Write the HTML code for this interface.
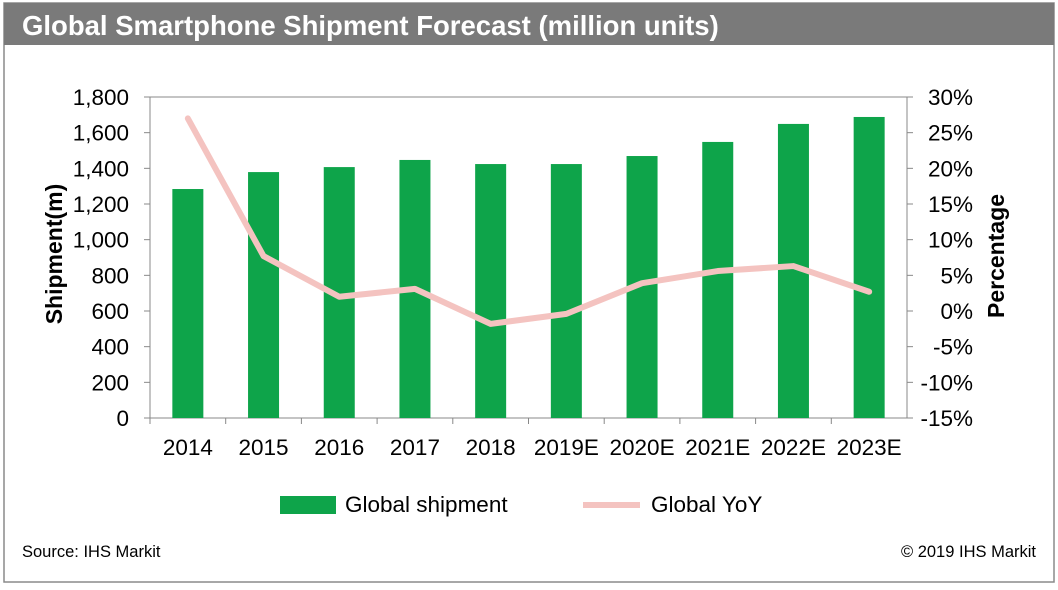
<!DOCTYPE html>
<html><head><meta charset="utf-8"><style>
body{margin:0;background:#fff;width:1058px;height:585px;overflow:hidden;font-family:"Liberation Sans",Arial,sans-serif}
</style></head><body>
<svg width="1058" height="585" xmlns="http://www.w3.org/2000/svg" font-family="Liberation Sans, Arial, sans-serif">
<rect x="4" y="3" width="1050" height="579" fill="#fff" stroke="#8a8a8a" stroke-width="1.5"/>
<rect x="4" y="3" width="1050" height="42" fill="#7a7a7a"/>
<text x="22" y="35" font-size="27.5" font-weight="bold" fill="#fff">Global Smartphone Shipment Forecast (million units)</text>
<g id="plot"></g>
<text x="22" y="557" font-size="16.5" fill="#000">Source: IHS Markit</text>
<text x="1036" y="557" font-size="16.5" fill="#000" text-anchor="end">© 2019 IHS Markit</text>
</svg>
<script>
const categories=["2014","2015","2016","2017","2018","2019E","2020E","2021E","2022E","2023E"];
const shipments=[1284,1379,1407,1447,1424,1424,1469,1548,1649,1688];
const yoy=[27,7.7,2,3.1,-1.8,-0.4,3.9,5.6,6.3,2.7];
const leftTicks=[0,200,400,600,800,1000,1200,1400,1600,1800];
const rightTicks=[-15,-10,-5,0,5,10,15,20,25,30];
const NS="http://www.w3.org/2000/svg";
const g=document.getElementById('plot');
const X0=150,X1=907,Y0=418,Y1=97;
const band=(X1-X0)/categories.length;
const xc=i=>X0+band*(i+0.5);
const yL=v=>Y0-(v/1800)*(Y0-Y1);
const yR=v=>Y0-((v+15)/45)*(Y0-Y1);
function mk(t,a){const e=document.createElementNS(NS,t);for(const k in a)e.setAttribute(k,a[k]);g.appendChild(e);return e;}
let e=mk('rect',{x:X0,y:Y1,width:X1-X0,height:Y0-Y1,fill:'none',stroke:'#888','stroke-width':1});


leftTicks.forEach(v=>{
 mk('line',{x1:X0-6,x2:X0,y1:yL(v),y2:yL(v),stroke:'#888'});
 e=mk('text',{x:129,y:yL(v)+8,'font-size':22.5,'text-anchor':'end'});e.textContent=v.toLocaleString('en-US');
 
 
});
rightTicks.forEach(v=>{
 mk('line',{x1:X1,x2:X1+6,y1:yR(v),y2:yR(v),stroke:'#888'});
 e=mk('text',{x:973,y:yR(v)+8,'font-size':22.5,'text-anchor':'end'});e.textContent=v+'%';
 
 
});
categories.forEach((c,i)=>{
 mk('line',{x1:X0+band*i,x2:X0+band*i,y1:Y0,y2:Y0+6,stroke:'#888'});
 e=mk('rect',{x:xc(i)-15.5,y:yL(shipments[i]),width:31,height:Y0-yL(shipments[i]),fill:'#0ea44a'});
 
 
 e=mk('text',{x:xc(i),y:455,'font-size':22.5,'text-anchor':'middle'});e.textContent=c;
 
 
});
e=mk('polyline',{points:yoy.map((v,i)=>xc(i)+','+yR(v)).join(' '),fill:'none',stroke:'#f4c3c0','stroke-width':6,'stroke-linejoin':'round','stroke-linecap':'round'});


e=mk('text',{x:0,y:0,'font-size':23,'font-weight':'bold','text-anchor':'middle',transform:'translate(62,254) rotate(-90)'});e.textContent='Shipment(m)';


e=mk('text',{x:0,y:0,'font-size':23,'font-weight':'bold','text-anchor':'middle',transform:'translate(1004,256) rotate(-90)'});e.textContent='Percentage';


e=mk('rect',{x:280,y:496,width:56,height:18,fill:'#0ea44a'});


e=mk('text',{x:345,y:512,'font-size':22.5});e.textContent='Global shipment';


e=mk('line',{x1:583,x2:640,y1:505,y2:505,stroke:'#f4c3c0','stroke-width':6});


e=mk('text',{x:651,y:512,'font-size':22.5});e.textContent='Global YoY';


</script>
</body></html>
